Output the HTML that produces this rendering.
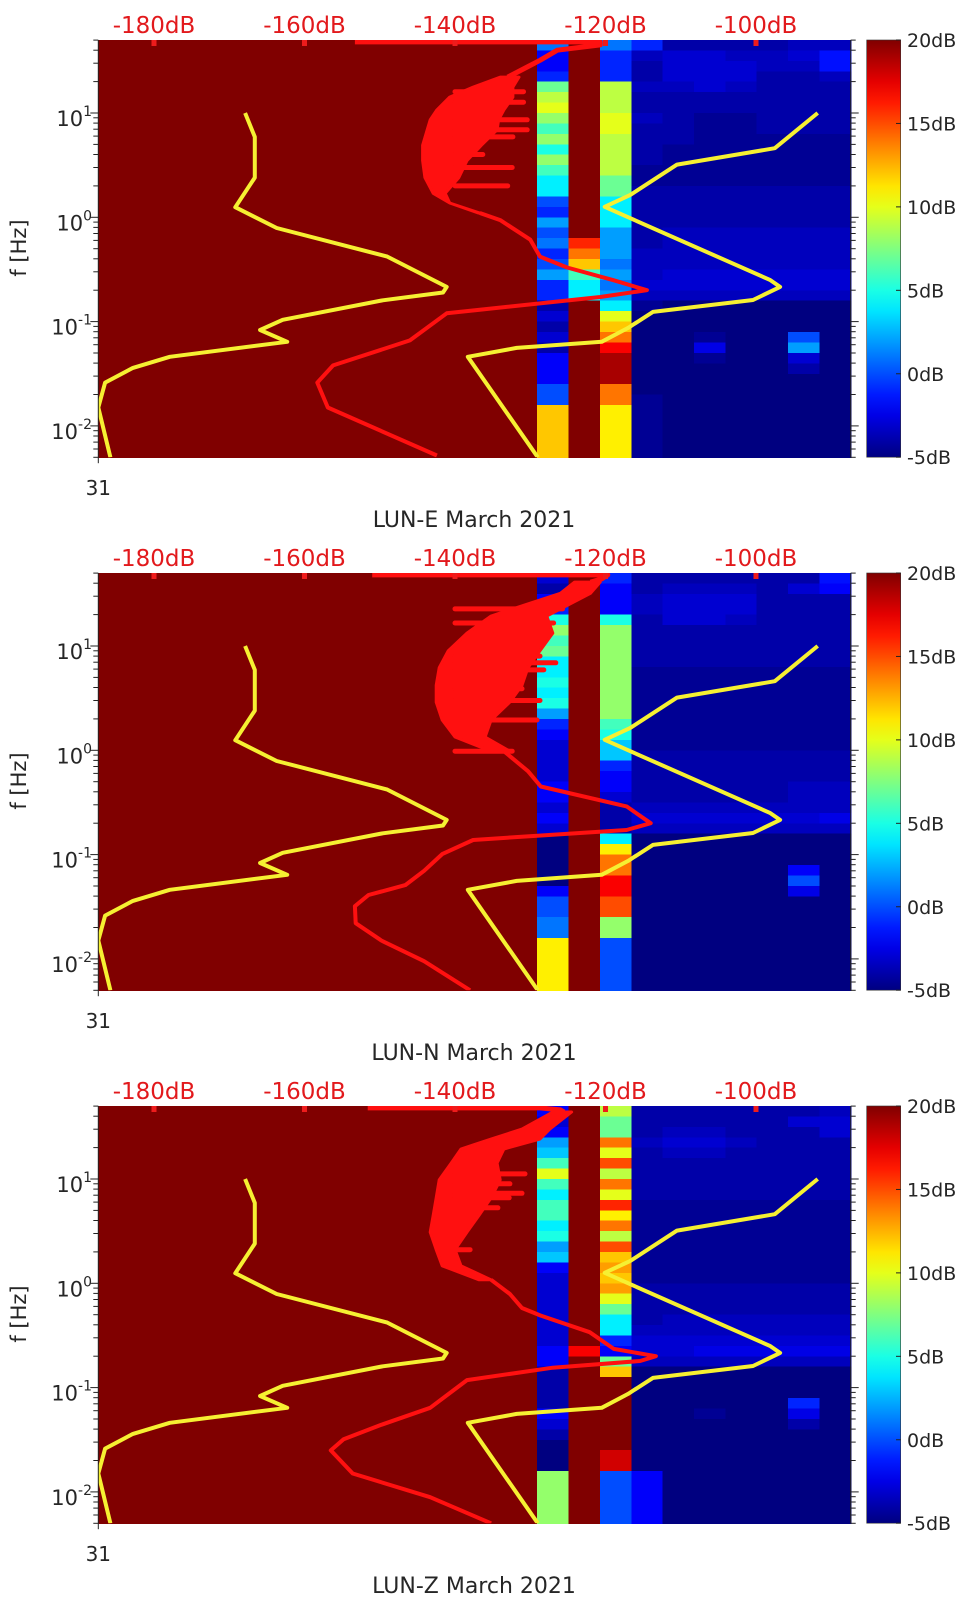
<!DOCTYPE html>
<html><head><meta charset="utf-8">
<style>
html,body{margin:0;padding:0;background:#fff;}
svg{display:block;font-family:"DejaVu Sans","Liberation Sans",sans-serif;}
</style></head>
<body>
<svg id="chart" width="962" height="1599" viewBox="0 0 962 1599" xmlns="http://www.w3.org/2000/svg"></svg>
<script>
// ---------- shared data ----------
const stationTitles = ["LUN-E March 2021", "LUN-N March 2021", "LUN-Z March 2021"];
const dbTickValues = [-180, -160, -140, -120, -100];
const dbTickLabels = ["-180dB", "-160dB", "-140dB", "-120dB", "-100dB"];
const freqDecades = [10, 1, 0.1, 0.01];
const freqDecadeExp = ["1", "0", "-1", "-2"];
const colorbarValues = [20, 15, 10, 5, 0, -5];
const colorbarLabels = ["20dB", "15dB", "10dB", "5dB", "0dB", "-5dB"];
const timeTickLabel = "31";
const emptyColumnDB = 20;

const nlnmF = [10,5.9,2.4,1.25,0.79,0.42,0.215,0.19,0.16,0.104,0.083,0.064,0.046,0.036,0.026,0.015,0.005];
const nlnmDB = [-167.9,-166.6,-166.6,-169.2,-163.7,-149,-141.1,-141.6,-149.6,-162.9,-165.9,-162.3,-177.9,-182.8,-186.5,-187.4,-185.8];
const nhnmF = [10,4.6,3.2,1.64,1.26,0.98,0.25,0.215,0.161,0.124,0.087,0.064,0.056,0.046,0.005];
const nhnmDB = [-91.8,-97.5,-110.5,-116.7,-120.1,-116.7,-98.1,-96.8,-100.4,-113.7,-117,-120.5,-131.8,-138.3,-129];

// ---------- panel E ----------
const e_c14 = [1,-2,-2,-1,7,9,10,8,6,8,5,8,6,4,4,0,-1,2,0,1,-1,0,2,-1,-1,-4,-3,-4,-3,-4,-2,-2,-2,0,0,12,12,12,12,12];
const e_c15 = [20,20,20,20,20,20,20,20,20,20,20,20,20,20,20,20,20,20,20,16,14,12,6,4,4,20,20,20,20,20,20,20,20,20,20,20,20,20,20,20];
const e_c16 = [1,-1,-1,-1,9,9,9,10,10,9,9,9,9,7,7,4,4,4,2,2,2,1,2,1,2,4,10,12,14,17,19,19,19,14,14,11,11,11,11,11];
const e_bg = [
[-1,-3.5,-4,-4,-3.5,-4,-4,-3.5,-4,-4,-4,-4,-4.5,-4.5,-4,-4,-4,-4,-4,-4,-3.5,-3.5,-3.5,-3,-3.5,-4.5,-5,-5,-5,-5,-5,-5,-5,-5,-4.5,-4.5,-4.5,-4.5,-4.5,-4.5],
[-4,-3,-3,-3,-3.5,-4,-4,-4,-4,-4,-4.5,-4.5,-4.5,-4.5,-4,-4,-4,-4,-3.5,-3.5,-3.5,-3.5,-3,-3,-3.5,-5,-5,-5,-5,-5,-5,-5,-5,-5,-5,-5,-5,-5,-5,-5],
[-4,-3,-3,-3,-3,-4,-4,-4.5,-4.5,-4.5,-4.5,-4.5,-4.5,-4.5,-4,-4,-4,-4,-3.5,-3.5,-3.5,-3.5,-3,-3,-3.5,-5,-5,-5,-4.5,-2.5,-4.5,-5,-5,-5,-5,-5,-5,-5,-5,-5],
[-4,-3.5,-3,-3,-3.5,-4,-4,-4.5,-4.5,-4.5,-4.5,-4.5,-4.5,-4.5,-4,-4,-4,-4,-3.5,-3.5,-3.5,-3.5,-3,-3,-3.5,-5,-5,-5,-5,-5,-5,-5,-5,-5,-5,-5,-5,-5,-5,-5],
[-4,-3.5,-3.5,-4,-4,-4,-4,-4,-4,-4.5,-4.5,-4.5,-4.5,-4.5,-4,-4,-4,-4,-3.5,-3.5,-3.5,-3.5,-3,-3,-3.5,-5,-5,-5,-5,-5,-5,-5,-5,-5,-5,-5,-5,-5,-5,-5],
[-3.5,-3,-3.5,-4,-4,-4,-4,-4,-4,-4.5,-4.5,-4.5,-4.5,-4.5,-4,-4,-4,-4,-3.5,-3.5,-3.5,-3.5,-3,-3,-3.5,-5,-5,-5,0,2,-3,-4,-5,-5,-5,-5,-5,-5,-5,-5],
[-3.5,-1.5,-1.5,-3.5,-4,-4,-4,-4,-4,-4.5,-4.5,-4.5,-4.5,-4.5,-4,-4,-4,-4,-3.5,-3.5,-3.5,-3.5,-3,-3,-3.5,-5,-5,-5,-5,-5,-5,-5,-5,-5,-5,-5,-5,-5,-5,-5]
];
const e_headF = [48,48,45,40,32,27.6,22.1];
const e_headDB = [-153.3,-120.7,-120.7,-126.4,-128.7,-130.4,-133];
const e_blobF = [22.1,17.7,14.2,10.7,8.6,6.9,4.9,3.5,2.4,1.7,1.37,1.1];
const e_blobL = [-134,-137.6,-140.7,-142.4,-143.3,-143.7,-144.3,-144.3,-144,-142.9,-140.7,-136.9];
const e_blobR = [-131.5,-132.3,-132.3,-133.5,-134.2,-134.4,-136.5,-138.4,-139.5,-141.3,-140.7,-136.7];
const e_spikeF = [16,12.7,8.6,6.9,5.9,4.0,3.0,2.0];
const e_spikeDB = [-130.9,-130.9,-130.4,-130.4,-132.3,-136.3,-132.4,-133];
const e_tailF = [1.1,0.94,0.61,0.42,0.33,0.25,0.2,0.172,0.13,0.12,0.066,0.038,0.026,0.015,0.0052];
const e_tailDB = [-136.7,-134,-130,-128.7,-125.1,-119,-114.5,-120.7,-136.7,-141.1,-146,-156.2,-158.3,-156.9,-142.4];

// ---------- panel N ----------
const n_c14 = [-3,-4,-2,-1,5,8,6,7,4,4,5,4,5,2,-1,-2,-3,-3,-3,-3,-2,-2,-3,-2,-3,-5,-5,-5,-5,-5,-2,0,0,1,1,11,11,11,11,11];
const n_c15 = [20,20,20,20,20,20,20,20,20,20,20,20,20,20,20,20,20,20,20,20,20,20,20,20,20,20,20,20,20,20,20,20,20,20,20,20,20,20,20,20];
const n_c16 = [-1,-2,-2,-2,5,8,8,8,8,8,8,8,8,8,6,5,3,3,-1,-2,-2,-3,-4,-4,-4,4,11,14,14,17,17,15,15,8,8,0,0,0,0,0];
const n_bg = [
[-4,-4,-3.5,-3.5,-4,-4,-4,-4,-4,-4.5,-4.5,-4.5,-4.5,-4.5,-4.5,-4.5,-4.5,-4,-4,-4,-4,-4,-3.5,-3,-3.5,-5,-5,-5,-5,-5,-5,-5,-5,-5,-5,-5,-5,-5,-5,-5],
[-4,-3.5,-3,-3,-3,-4,-4,-4,-4,-4.5,-4.5,-4.5,-4.5,-4.5,-4.5,-4.5,-4.5,-4,-4,-4,-4,-4,-3.5,-3,-3.5,-5,-5,-5,-5,-5,-5,-5,-5,-5,-5,-5,-5,-5,-5,-5],
[-4,-3.5,-3,-3,-3,-4,-4,-4,-4,-4.5,-4.5,-4.5,-4.5,-4.5,-4.5,-4.5,-4.5,-4,-4,-4,-4,-4,-3.5,-3,-3.5,-5,-5,-5,-5,-5,-5,-5,-5,-5,-5,-5,-5,-5,-5,-5],
[-4,-3.5,-3,-3,-3.5,-4,-4,-4,-4,-4.5,-4.5,-4.5,-4.5,-4.5,-4.5,-4.5,-4.5,-4,-4,-4,-4,-4,-3.5,-3,-3.5,-5,-5,-5,-5,-5,-5,-5,-5,-5,-5,-5,-5,-5,-5,-5],
[-4,-4,-4,-4,-4,-4,-4,-4,-4,-4.5,-4.5,-4.5,-4.5,-4.5,-4.5,-4.5,-4.5,-4,-4,-4,-4,-4,-3.5,-3,-3.5,-5,-5,-5,-5,-5,-5,-5,-5,-5,-5,-5,-5,-5,-5,-5],
[-4,-3,-4,-4,-4,-4,-4,-4,-4,-4.5,-4.5,-4.5,-4.5,-4.5,-4.5,-4.5,-4.5,-4,-4,-4,-3.5,-3.5,-3.5,-3,-3.5,-5,-5,-5,-2,0,-2.5,-5,-5,-5,-5,-5,-5,-5,-5,-5],
[-1.5,-2,-4,-4,-4,-4,-4,-4,-4,-4.5,-4.5,-4.5,-4.5,-4.5,-4.5,-4.5,-4.5,-4,-4,-4,-3.5,-3.5,-3.5,-2.5,-3.5,-5,-5,-5,-5,-5,-5,-5,-5,-5,-5,-5,-5,-5,-5,-5]
];
const n_headF = [48,48,44,41];
const n_headDB = [-151,-119.7,-120.5,-122];
const n_blobF = [41,32,19.4,13.3,9.0,6.2,4.2,2.9,1.95,1.34,0.98];
const n_blobL = [-124.1,-126,-135.2,-138.4,-140.9,-142.1,-142.5,-142.5,-141.7,-140,-135.2];
const n_blobR = [-120.7,-122,-127.8,-127,-128.7,-130.3,-131.1,-132.7,-135.2,-136,-132.7];
const n_spikeF = [22.7,16.6,8.0,6.9,5.9,3.9,3.0,1.95,0.98];
const n_spikeDB = [-125.7,-126.9,-128.7,-126.6,-128.2,-131.1,-128.7,-129.1,-132.4];
const n_tailF = [0.98,0.63,0.45,0.29,0.2,0.172,0.155,0.138,0.101,0.07,0.051,0.041,0.032,0.022,0.015,0.0095,0.005];
const n_tailDB = [-133.5,-130.3,-128.6,-117.2,-114,-117.2,-127,-137.6,-141.7,-144.1,-146.6,-151.5,-153.3,-153.2,-149.8,-144.1,-138];

// ---------- panel Z ----------
const z_c14 = [-2,-3,-2,2,3,6,10,6,4,6,6,4,5,2,3,-2,-3,-3,-3,-3,-3,-3,-3,-2,-2,-4,-4,-4,-4,-2,-3,-4,-5,-5,-5,8,8,8,8,8];
const z_c15 = [20,20,20,20,20,20,20,20,20,20,20,20,20,20,20,20,20,20,20,20,20,20,20,17,20,20,20,20,20,20,20,20,20,20,20,20,20,20,20,20];
const z_c16 = [9,7,7,14,10,15,9,14,10,16,11,14,9,15,12,13,12,13,10,7,4,4,-1,-2,7,12,20,20,20,20,20,20,20,18,18,0,0,0,0,0];
const z_bg = [
[-4,-4,-4,-3.5,-4,-4,-4,-4,-4,-4.5,-4.5,-4.5,-4.5,-4.5,-4.5,-4.5,-4.5,-4,-4,-4,-4,-3.5,-3,-3,-3.5,-5,-5,-5,-5,-5,-5,-5,-5,-5,-5,-2,-2,-2,-2,-2],
[-4,-4,-3.5,-3,-3.5,-4,-4,-4,-4,-4.5,-4.5,-4.5,-4.5,-4.5,-4.5,-4.5,-4.5,-4,-4,-4,-3.5,-3.5,-3,-3,-3.5,-5,-5,-5,-5,-5,-5,-5,-5,-5,-5,-5,-5,-5,-5,-5],
[-4,-4,-3.5,-3,-3.5,-4,-4,-4,-4,-4.5,-4.5,-4.5,-4.5,-4.5,-4.5,-4.5,-4.5,-4,-4,-4,-3.5,-3.5,-3,-2.5,-3.5,-5,-5,-5,-5,-4.5,-5,-5,-5,-5,-5,-5,-5,-5,-5,-5],
[-4,-4,-4,-3.5,-4,-4,-4,-4,-4,-4.5,-4.5,-4.5,-4.5,-4.5,-4.5,-4.5,-4.5,-4,-4,-4,-3.5,-3.5,-3,-2.5,-3.5,-5,-5,-5,-5,-5,-5,-5,-5,-5,-5,-5,-5,-5,-5,-5],
[-4,-4,-4,-4,-4,-4,-4,-4,-4,-4.5,-4.5,-4.5,-4.5,-4.5,-4.5,-4.5,-4.5,-4,-4,-4,-3.5,-3.5,-3,-2.5,-3.5,-5,-5,-5,-5,-5,-5,-5,-5,-5,-5,-5,-5,-5,-5,-5],
[-4,-3,-4,-4,-4,-4,-4,-4,-4,-4.5,-4.5,-4.5,-4.5,-4.5,-4.5,-4.5,-4.5,-4,-4,-4,-3.5,-3.5,-3,-2.5,-3.5,-5,-5,-5,-1,-2.5,-4,-5,-5,-5,-5,-5,-5,-5,-5,-5],
[-3.5,-3,-3,-4,-4,-4,-4,-4,-4,-4.5,-4.5,-4.5,-4.5,-4.5,-4.5,-4.5,-4.5,-4,-4,-4,-3.5,-3.5,-3,-2.5,-3.5,-5,-5,-5,-5,-5,-5,-5,-5,-5,-5,-5,-5,-5,-5,-5]
];
const z_headF = [48,48,46,43.9];
const z_headDB = [-151.6,-128.7,-126,-125.5];
const z_blobF = [43.9,30.1,24.2,19.4,14.2,9.8,6.6,4.5,3.1,2.1,1.47,1.08];
const z_blobL = [-127,-131.1,-135.2,-139.2,-140.5,-142.1,-142.5,-142.9,-143.3,-142.5,-141.7,-136.8];
const z_blobR = [-124.5,-127.4,-128.7,-133.5,-134.4,-134,-135.2,-136.8,-138.4,-140,-139.2,-135.2];
const z_spikeF = [11.2,9.0,7.3,6.6,5.3,2.1];
const z_spikeDB = [-130.7,-132.7,-131.1,-132.8,-134.3,-138];
const z_tailF = [1.08,0.79,0.58,0.49,0.34,0.235,0.2,0.18,0.155,0.118,0.064,0.044,0.032,0.025,0.015,0.0089,0.005];
const z_tailDB = [-135.2,-132.7,-131.1,-128.6,-122.1,-118.9,-113.3,-115.4,-127,-138.4,-143.3,-149.8,-154.8,-156.5,-153.6,-143.3,-135.2];

// ---------- layout / scales ----------
const NS = "http://www.w3.org/2000/svg";
const svg = document.getElementById("chart");
const PL = 98.3, PR = 850.7, PT = 40, PB = 457.2;
const PANEL_DY = 533;
const NCOLS = 24, NBINS = 40;
const LOGF_TOP = 1.7, BIN_DEC = 0.1;
function xDB(db){ return 154 + (db + 180) * 7.525; }
function yF(f, oy){ return 113 - (Math.log10(f) - 1) * 104.3 + oy; }
function xCol(c){ return PL + c * (PR - PL) / NCOLS; }
function cbY(v, oy){ return PT + (20 - v) / 25 * (PB - PT) + oy; }
function jet(v){
  const t = Math.max(0, Math.min(1, (v + 5) / 25));
  const cl = x => Math.round(255 * Math.max(0, Math.min(1, x)));
  return "rgb(" + cl(1.5 - Math.abs(4*t - 3)) + "," + cl(1.5 - Math.abs(4*t - 2)) + "," + cl(1.5 - Math.abs(4*t - 1)) + ")";
}
function mk(tag, parent){ const e = document.createElementNS(NS, tag); parent.appendChild(e); return e; }
function pts(fs, dbs, oy){ return fs.map((f,i) => xDB(dbs[i]).toFixed(1) + "," + yF(f, oy).toFixed(1)).join(" "); }

const defs = mk("defs", svg);
const grad = mk("linearGradient", defs);
grad.setAttribute("id", "jetgrad");
grad.setAttribute("x1", "0"); grad.setAttribute("y1", "1"); grad.setAttribute("x2", "0"); grad.setAttribute("y2", "0");
for (let k = 0; k <= 20; k++) {
  const s = mk("stop", grad);
  s.setAttribute("offset", (k/20).toFixed(2));
  s.setAttribute("stop-color", jet(-5 + 25*k/20));
}

const panels = [
  {c14:e_c14,c15:e_c15,c16:e_c16,bg:e_bg,hF:e_headF,hD:e_headDB,bF:e_blobF,bL:e_blobL,bR:e_blobR,sF:e_spikeF,sD:e_spikeDB,tF:e_tailF,tD:e_tailDB},
  {c14:n_c14,c15:n_c15,c16:n_c16,bg:n_bg,hF:n_headF,hD:n_headDB,bF:n_blobF,bL:n_blobL,bR:n_blobR,sF:n_spikeF,sD:n_spikeDB,tF:n_tailF,tD:n_tailDB},
  {c14:z_c14,c15:z_c15,c16:z_c16,bg:z_bg,hF:z_headF,hD:z_headDB,bF:z_blobF,bL:z_blobL,bR:z_blobR,sF:z_spikeF,sD:z_spikeDB,tF:z_tailF,tD:z_tailDB}
];

panels.forEach((P, pi) => {
  const oy = pi * PANEL_DY;
  const g = mk("g", svg);
  
  

  const cp = mk("clipPath", defs);
  cp.setAttribute("id", "clip" + pi);
  const cr = mk("rect", cp);
  cr.setAttribute("x", PL); cr.setAttribute("y", PT + oy); cr.setAttribute("width", PR - PL); cr.setAttribute("height", PB - PT);

  const sg = mk("g", g);
  
  
  sg.setAttribute("shape-rendering", "crispEdges");
  for (let c = 0; c < NCOLS; c++) {
    for (let i = 0; i < NBINS; i++) {
      let v;
      if (c < 14) v = emptyColumnDB;
      else if (c === 14) v = P.c14[i];
      else if (c === 15) v = P.c15[i];
      else if (c === 16) v = P.c16[i];
      else v = P.bg[c - 17][i];
      const fTop = Math.pow(10, LOGF_TOP - BIN_DEC * i);
      const fBot = Math.pow(10, LOGF_TOP - BIN_DEC * (i + 1));
      const r = mk("rect", sg);
      
      
      const y0 = yF(fTop, oy), y1 = yF(fBot, oy);
      r.setAttribute("x", xCol(c).toFixed(1));
      r.setAttribute("y", y0.toFixed(1));
      r.setAttribute("width", (xCol(c+1) - xCol(c) + 0.6).toFixed(1));
      r.setAttribute("height", (y1 - y0 + 0.6).toFixed(1));
      r.setAttribute("fill", jet(v));
    }
  }

  const cg = mk("g", g);
  cg.setAttribute("clip-path", "url(#clip" + pi + ")");

  const lo = mk("polyline", cg);
  
  
  lo.setAttribute("points", pts(nlnmF, nlnmDB, oy));
  lo.setAttribute("fill", "none"); lo.setAttribute("stroke", "#f6f032"); lo.setAttribute("stroke-width", "4"); lo.setAttribute("stroke-linejoin", "round");
  const hi = mk("polyline", cg);
  
  
  hi.setAttribute("points", pts(nhnmF, nhnmDB, oy));
  hi.setAttribute("fill", "none"); hi.setAttribute("stroke", "#f6f032"); hi.setAttribute("stroke-width", "4"); hi.setAttribute("stroke-linejoin", "round");

  const red = "#ff1010";
  const head = mk("polyline", cg);
  
  
  head.setAttribute("points", pts(P.hF, P.hD, oy));
  head.setAttribute("fill", "none"); head.setAttribute("stroke", red); head.setAttribute("stroke-width", "5"); head.setAttribute("stroke-linejoin", "round");
  const blob = mk("polygon", cg);
  
  
  blob.setAttribute("points", pts(P.bF, P.bL, oy) + " " + pts(P.bF.slice().reverse(), P.bR.slice().reverse(), oy));
  blob.setAttribute("fill", red); blob.setAttribute("stroke", red); blob.setAttribute("stroke-width", "3"); blob.setAttribute("stroke-linejoin", "round");
  P.sF.forEach((f, k) => {
    const s = mk("line", cg);
    
    
    s.setAttribute("x1", xDB(-140).toFixed(1)); s.setAttribute("x2", xDB(P.sD[k]).toFixed(1));
    s.setAttribute("y1", yF(f, oy).toFixed(1)); s.setAttribute("y2", yF(f, oy).toFixed(1));
    s.setAttribute("stroke", red); s.setAttribute("stroke-width", "5"); s.setAttribute("stroke-linecap", "round");
  });
  const tail = mk("polyline", cg);
  
  
  tail.setAttribute("points", pts(P.tF, P.tD, oy));
  tail.setAttribute("fill", "none"); tail.setAttribute("stroke", red); tail.setAttribute("stroke-width", "4"); tail.setAttribute("stroke-linejoin", "round");

  dbTickValues.forEach((v, k) => {
    const t = mk("text", g);
    
    
    t.setAttribute("x", xDB(v).toFixed(1)); t.setAttribute("y", 33 + oy);
    t.setAttribute("text-anchor", "middle"); t.setAttribute("font-size", "23"); t.setAttribute("fill", "#e2191c");
    t.textContent = dbTickLabels[k];
    const m = mk("rect", g);
    
    
    m.setAttribute("x", (xDB(v) - 2.5).toFixed(1)); m.setAttribute("y", PT + oy); m.setAttribute("width", "5"); m.setAttribute("height", "6");
    m.setAttribute("fill", "#ee1c1c");
  });

  const ax = mk("g", g);
  
  
  [PL, PR].forEach(xx => {
    const l = mk("line", ax);
    
    
    l.setAttribute("x1", xx); l.setAttribute("x2", xx); l.setAttribute("y1", PT + oy); l.setAttribute("y2", PB + oy);
    l.setAttribute("stroke", "#222"); l.setAttribute("stroke-width", "1");
  });
  for (let d = -3; d <= 1; d++) {
    for (let m = 1; m <= 9; m++) {
      const f = m * Math.pow(10, d);
      if (f < 0.005 || f > 50) continue;
      const y = yF(f, oy);
      const len = m === 1 ? 8 : 5;
      [[PL, -1], [PR, 1]].forEach(([xx, dir]) => {
        const l = mk("line", ax);
        
        
        l.setAttribute("x1", xx); l.setAttribute("x2", xx + dir * len);
        l.setAttribute("y1", y.toFixed(1)); l.setAttribute("y2", y.toFixed(1));
        l.setAttribute("stroke", "#222"); l.setAttribute("stroke-width", "1");
      });
    }
  }
  freqDecades.forEach((f, k) => {
    const t = mk("text", ax);
    
    
    t.setAttribute("x", 92); t.setAttribute("y", (yF(f, oy) + 13).toFixed(1));
    t.setAttribute("text-anchor", "end"); t.setAttribute("font-size", "21"); t.setAttribute("fill", "#262626");
    const a = mk("tspan", t); a.textContent = "10";
    const b = mk("tspan", t); b.setAttribute("font-size", "14"); b.setAttribute("dy", "-10"); b.textContent = freqDecadeExp[k];
  });
  const yl = mk("text", g);
  
  
  yl.setAttribute("transform", "translate(26," + (248 + oy) + ") rotate(-90)");
  yl.setAttribute("text-anchor", "middle"); yl.setAttribute("font-size", "21"); yl.setAttribute("fill", "#262626");
  yl.textContent = "f [Hz]";

  const xt = mk("line", g);
  
  
  xt.setAttribute("x1", PL); xt.setAttribute("x2", PL); xt.setAttribute("y1", PB + oy); xt.setAttribute("y2", PB + 6 + oy);
  xt.setAttribute("stroke", "#222");
  const xl = mk("text", g);
  
  
  xl.setAttribute("x", PL); xl.setAttribute("y", 495 + oy);
  xl.setAttribute("text-anchor", "middle"); xl.setAttribute("font-size", "20"); xl.setAttribute("fill", "#262626");
  xl.textContent = timeTickLabel;
  const ti = mk("text", g);
  
  
  ti.setAttribute("x", 474); ti.setAttribute("y", 527 + oy);
  ti.setAttribute("text-anchor", "middle"); ti.setAttribute("font-size", "22"); ti.setAttribute("fill", "#262626");
  ti.textContent = stationTitles[pi];

  const cb = mk("rect", g);
  
  
  cb.setAttribute("x", 866.7); cb.setAttribute("y", PT + oy); cb.setAttribute("width", 34); cb.setAttribute("height", PB - PT);
  cb.setAttribute("fill", "url(#jetgrad)"); cb.setAttribute("stroke", "#333"); cb.setAttribute("stroke-width", "0.6");
  colorbarValues.forEach((v, k) => {
    const y = cbY(v, oy);
    const tk = mk("line", g);
    
    
    tk.setAttribute("x1", 896); tk.setAttribute("x2", 900.7); tk.setAttribute("y1", y); tk.setAttribute("y2", y);
    tk.setAttribute("stroke", "#222");
    const t = mk("text", g);
    
    
    t.setAttribute("x", 907); t.setAttribute("y", (y + 7).toFixed(1));
    t.setAttribute("font-size", "19"); t.setAttribute("fill", "#262626");
    t.textContent = colorbarLabels[k];
  });
});
</script>
</body></html>
